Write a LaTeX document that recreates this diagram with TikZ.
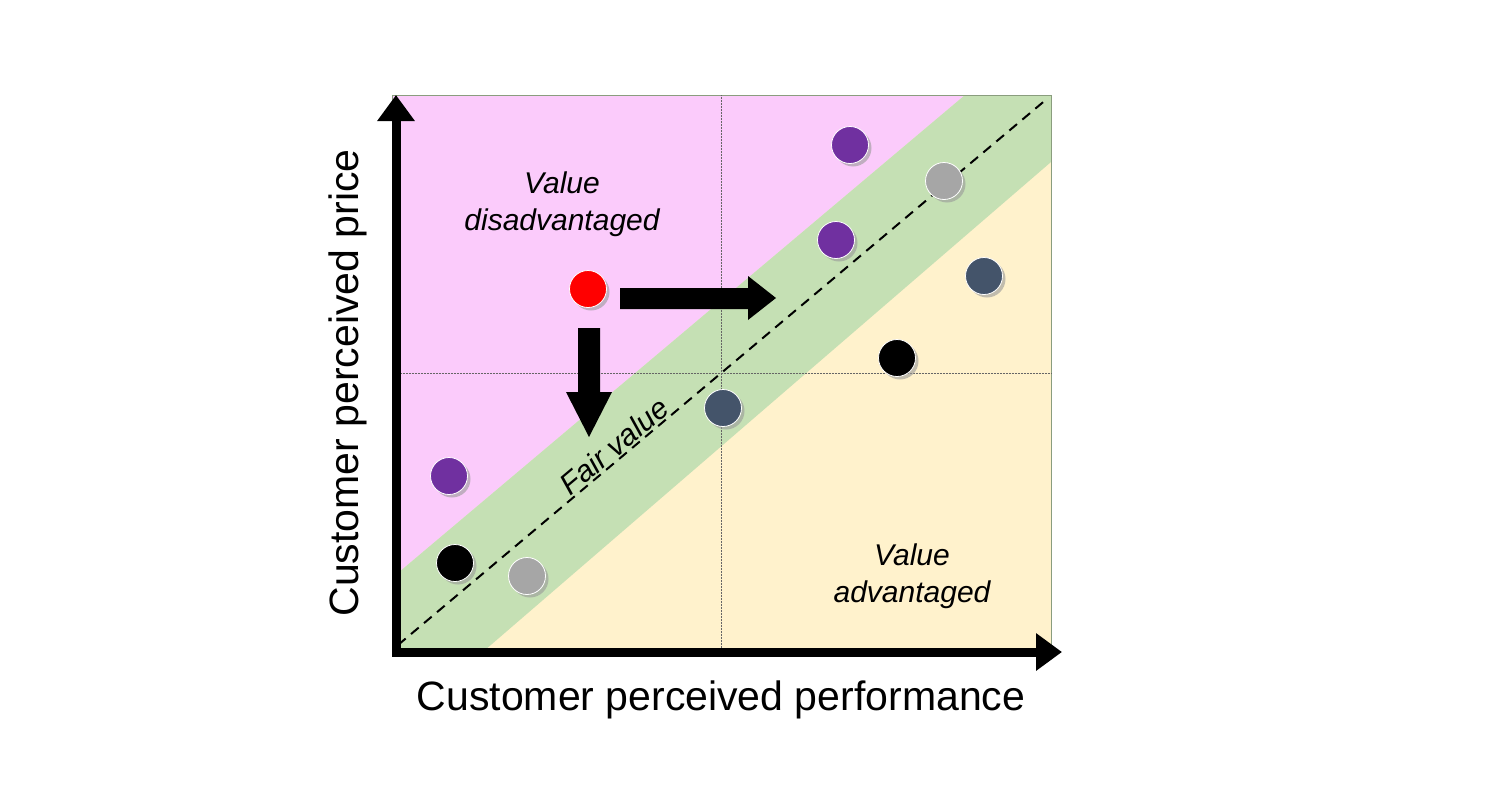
\documentclass[tikz,border=0pt]{standalone}
\usepackage{fontspec}
\setmainfont{Liberation Sans}
\usetikzlibrary{shadows,arrows.meta}
\definecolor{pinkr}{HTML}{FBCBFB}
\definecolor{greenb}{HTML}{C5E0B4}
\definecolor{yell}{HTML}{FFF2CC}
\definecolor{purp}{HTML}{7030A0}
\definecolor{grayd}{HTML}{A6A6A6}
\definecolor{slate}{HTML}{44546A}
\tikzset{
 dot/.style={circle,minimum size=37pt,inner sep=0pt,draw=white,line width=0.8pt,fill=#1,
   drop shadow={shadow xshift=3pt,shadow yshift=-3pt,fill=black!40,opacity=0.6}},
 lbl/.style={font=\fontsize{30}{37}\selectfont\itshape,align=center},
 axlbl/.style={font=\fontsize{41}{45}\selectfont},
 fat/.style={fill=black},
}
\begin{document}
\begin{tikzpicture}[x=1pt,y=-1pt]
\useasboundingbox (0,0) rectangle (1493,787);
\fill[yell] (392,95) rectangle (1051,650);
\fill[pinkr] (392,95) -- (965,95) -- (392,578) -- cycle;
\fill[greenb] (392,578) -- (965,95) -- (1051,95) -- (1051,162) -- (485,650) -- (392,650) -- cycle;
\draw[greenb!70!black,line width=0.6pt] (392,95) rectangle (1051,650);
\draw[densely dotted,black!60,line width=0.5pt] (721,95) -- (721,650) (392,373) -- (1051,373);
\draw[dashed,line width=2pt,dash pattern=on 10pt off 7pt] (398,645) -- (1048,98);
\coordinate (ytop) at (396,95);
\coordinate (xend) at (1062,652);
\draw[line width=9pt,-{Triangle[length=26pt,width=36pt]}] (396,656) -- (ytop);
\draw[line width=9pt,-{Triangle[length=26pt,width=36pt]}] (392,652) -- (xend);
\node[axlbl] (xl) at (721,700) {Customer perceived performance};
\node[axlbl,rotate=90] (yl) at (348,383) {Customer perceived price};
\node[lbl] (vd) at (562,204) {Value\\disadvantaged};
\node[lbl] (va) at (912,576) {Value\\advantaged};
\node[lbl,rotate=40] (fv) at (614,446) {Fair value};
\node[dot=purp] (p1) at (850,145) {};
\node[dot=grayd] (g1) at (944,181) {};
\node[dot=purp] (p2) at (836,240) {};
\node[dot=slate] (s1) at (984,276) {};
\node[dot=red] (r) at (588,289) {};
\node[dot=black] (b1) at (897,358) {};
\node[dot=slate] (s2) at (723,408) {};
\node[dot=purp] (p3) at (449,476) {};
\node[dot=black] (b2) at (455,563) {};
\node[dot=grayd] (g2) at (527,576) {};
\fill[fat] (620,288) -- (748,288) -- (748,276) -- (776,298) -- (748,320) -- (748,309) -- (620,309) -- cycle;
\fill[fat] (578,328) -- (600,328) -- (600,392) -- (612,392) -- (589,437) -- (566,392) -- (578,392) -- cycle;
\end{tikzpicture}
\end{document}
